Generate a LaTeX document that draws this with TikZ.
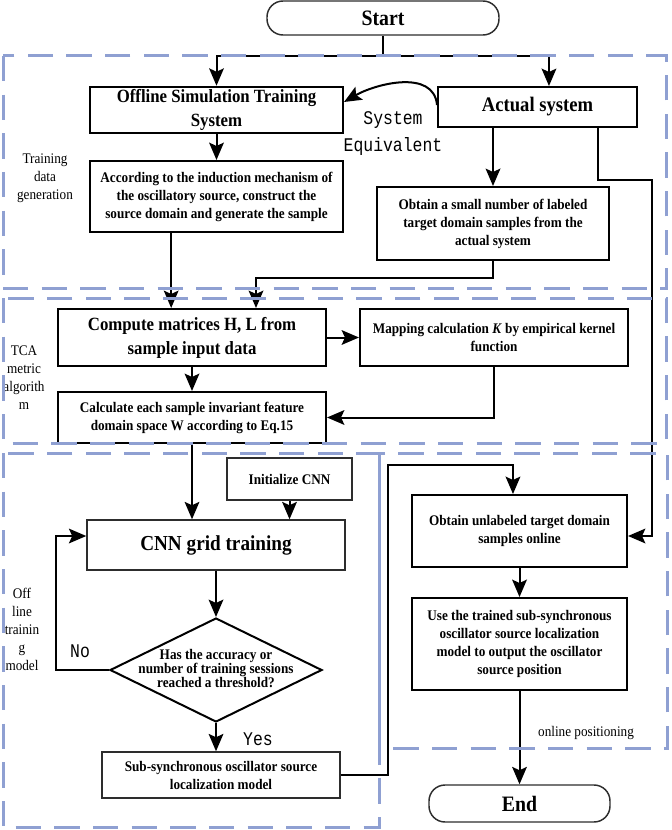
\documentclass[tikz,border=0pt]{standalone}
\usepackage{fontspec}
\setmainfont{Liberation Serif}[FakeStretch=0.9]
\newfontfamily\sysfont{Liberation Mono}[FakeStretch=0.85]
\usepackage{tikz}
\usetikzlibrary{arrows.meta,shapes.geometric}
\definecolor{regionblue}{RGB}{143,160,210}
\definecolor{edgegray}{RGB}{45,45,45}

\begin{document}
\begin{tikzpicture}[x=0.75pt,y=-0.75pt,
    >={Stealth[length=13pt,width=11pt,inset=2.5pt]},
    every path/.style={line width=1.5pt},
    box node/.style={draw,line width=1.5pt,align=center,inner sep=2pt,
        font=\fontsize{11}{13.5}\selectfont\bfseries},
    title node/.style={box node,font=\fontsize{14}{18}\selectfont\bfseries},
    thin node/.style={box node,draw=edgegray,line width=1.1pt},
    term node/.style={draw=edgegray,line width=1.1pt,rounded corners=12pt,
        font=\fontsize{16.5}{18}\selectfont\bfseries},
    decision/.style={diamond,draw,line width=1.5pt,inner sep=0pt,
        minimum width=159pt,minimum height=78pt,
        font=\fontsize{11}{10.5}\selectfont\bfseries},
    side label/.style={align=center,inner sep=0pt,font=\fontsize{11}{13.5}\selectfont},
    sys label/.style={align=center,inner sep=0pt,font=\fontsize{14.5}{20}\sysfont},
    region/.style={draw=regionblue,line width=2.25pt,dash pattern=on 19pt off 10pt}]

  \useasboundingbox (0,0) rectangle (671,830);

  % training data generation
  \node[term node,minimum width=174pt,minimum height=25.5pt] (start) at (383,18) {Start};
  \node[title node,minimum width=189.75pt,minimum height=34.5pt] (offline) at (216.5,110)
      {Offline Simulation Training\\System};
  \node[title node,font=\fontsize{15.5}{18}\selectfont\bfseries,
      minimum width=149.25pt,minimum height=30pt] (actual) at (537.5,107) {Actual system};
  \node[box node,minimum width=189.75pt,minimum height=53.25pt] (according) at (216.5,196.5)
      {According to the induction mechanism of\\the oscillatory source, construct the\\source domain and generate the sample};
  \node[box node,minimum width=174pt,minimum height=54.75pt] (small) at (493,223.5)
      {Obtain a small number of labeled\\target domain samples from the\\actual system};

  % TCA metric algorithm
  \node[title node,minimum width=201pt,minimum height=42.75pt] (compute) at (192,337.5)
      {Compute matrices H, L from\\sample input data};
  \node[box node,minimum width=201pt,minimum height=42.75pt] (mapping) at (494,337.5)
      {Mapping calculation \textit{K} by empirical kernel\\function};
  \node[box node,minimum width=201pt,minimum height=38.25pt] (calc) at (192,417.5)
      {Calculate each sample invariant feature\\domain space W according to Eq.15};

  % offline training model
  \node[thin node,minimum width=93.75pt,minimum height=31.5pt] (init) at (289.5,479) {Initialize CNN};
  \node[thin node,font=\fontsize{16}{18}\selectfont\bfseries,
      minimum width=193.5pt,minimum height=37.5pt] (cnn) at (216,545) {CNN grid training};
  \node[decision] (decide) at (216,670)
      {\raisebox{-2.5pt}{\smash{\makebox[0pt]{\parbox{140pt}{\centering
        Has the accuracy or\\number of training sessions\\reached a threshold?}}}}};
  \node[thin node,minimum width=178.5pt,minimum height=34.5pt] (sub) at (221,775)
      {Sub-synchronous oscillator source\\localization model};

  % online positioning
  \node[box node,minimum width=161.25pt,minimum height=54pt] (unlabeled) at (519.5,531)
      {Obtain unlabeled target domain\\samples online};
  \node[box node,minimum width=161.25pt,minimum height=69pt] (use) at (519.5,644)
      {Use the trained sub-synchronous\\oscillator source localization\\model to output the oscillator\\source position};
  \node[term node,minimum width=135.75pt,minimum height=27.75pt] (end) at (519.5,803.5) {End};

  \node[sys label] (equiv) at (393,133.5) {System\\Equivalent};
  \node[sys label] (no) at (80,651) {No};
  \node[sys label] (yes) at (258,739) {Yes};

  \node[side label] (lbltrain) at (45,178) {Training\\data\\generation};
  \node[side label] (lbltca) at (24,378) {TCA\\metric\\algorith\\m};
  \node[side label] (lbloff) at (22,629) {Off\\line\\trainin\\g\\model};
  \node[side label] (lblon) at (586,733) {online positioning};

  \coordinate (split) at (383,56);
  \coordinate (rightA) at (652,180);
  \coordinate (feedA) at ([xshift=-34pt]according.south);
  \coordinate (joinB) at (256,278);
  \coordinate (loopc) at (56,536);
  \coordinate (outA) at (388,465);

  \draw (start) -- (split);
  \draw[->] (split) -| (offline.north);
  \draw[->] (split) -| ([xshift=8.6pt]actual.north);
  \draw[->] ([yshift=1.5pt]actual.west) to[out=95,in=30] ([yshift=6pt]offline.east);
  \draw[->] (offline) -- (according);
  \draw[->] (actual.south -| small.north) -- (small.north);
  \draw[->] ([xshift=45.4pt]actual.south) |- (rightA) |- ([yshift=-3.75pt]unlabeled.east);
  \draw[->] (feedA) -- (feedA |- compute.north);
  \draw[->] (small.south) |- (joinB) -- (joinB |- compute.north);
  \draw[->] (compute) -- (mapping);
  \draw[->] (compute) -- (calc);
  \draw[->] (mapping.south) |- (calc.east);
  \draw[->] (calc.south) -- (calc.south |- cnn.north);
  \draw[->] (init.south) -- (init.south |- cnn.north);
  \draw[->] (cnn) -- (decide);
  \draw[->] (decide.west) -| (loopc) -- (loopc -| cnn.west);
  \draw[->] (decide.south) -- (decide.south |- sub.north);
  \draw[->] (sub.east) -| (outA) -| ([xshift=-4.9pt]unlabeled.north);
  \draw[->] (unlabeled) -- (use);
  \draw[->] (use) -- (end);

  % dashed regions on top
  \draw[region] (3,56) rectangle (666,288);
  \draw[region] (3,298) rectangle (666,443);
  \draw[region] (3,453) rectangle (379,827);
  \draw[region] (379,453) rectangle (667,748);

\end{tikzpicture}
\end{document}
